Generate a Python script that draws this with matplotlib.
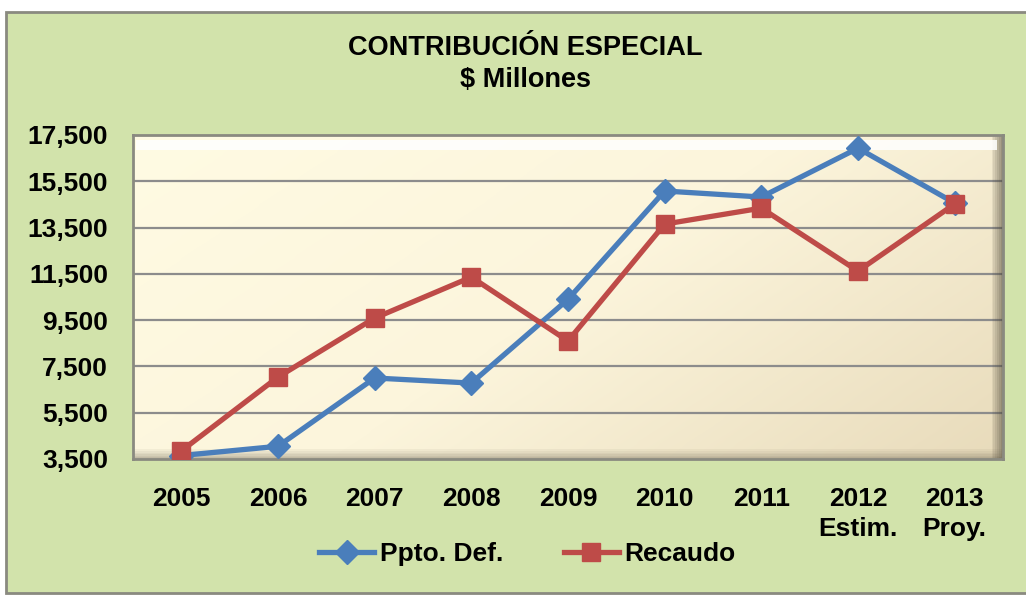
import numpy as np
import matplotlib.pyplot as plt
from matplotlib.patches import Rectangle
from matplotlib.colors import LinearSegmentedColormap

years = ['2005', '2006', '2007', '2008', '2009', '2010', '2011',
         '2012\nEstim.', '2013\nProy.']
ppto_def = [3650, 4050, 7000, 6780, 10400, 15080, 14820, 16930, 14560]
recaudo = [3850, 7040, 9590, 11360, 8600, 13650, 14340, 11620, 14520]
y_ticks = [3500, 5500, 7500, 9500, 11500, 13500, 15500, 17500]

BLUE = '#4a7ebb'
RED = '#be4b48'
GREEN = '#d2e3ab'
FS = 19

plt.rcParams['font.family'] = ['Liberation Sans', 'DejaVu Sans']
plt.rcParams['font.weight'] = 'bold'

fig = plt.figure(figsize=(10.26, 5.97), dpi=100)
fig.patch.set_facecolor('white')

# outer green frame
bg = fig.add_axes([0, 0, 1, 1], zorder=0)
bg.set_axis_off()
bg.set_xlim(0, 1)
bg.set_ylim(0, 1)
bg.add_patch(Rectangle((6 / 1026, 4 / 597), 1.0, 1 - 16 / 597,
                       facecolor=GREEN, edgecolor='#8a8a80', linewidth=2))

ax = fig.add_axes([133 / 1026, 1 - 459 / 597, 870 / 1026, 324 / 597], zorder=1)
ax.set_facecolor('none')

# plot-area gradient (light cream top-left -> tan bottom-right)
gx, gy = np.meshgrid(np.linspace(0, 1, 200), np.linspace(0, 1, 120))
grad = 0.65 * gx + 0.35 * gy
cmap = LinearSegmentedColormap.from_list('bg', ['#fffbe3', '#fcf5dc', '#e8dbbb'])
ax.imshow(grad, extent=[0, 1, 0, 1], transform=ax.transAxes, cmap=cmap,
          aspect='auto', zorder=0, interpolation='bicubic')

x = np.arange(len(years))
ax.set_xlim(-0.5, len(years) - 0.5)
ax.set_ylim(3500, 17500)
ax.set_yticks(y_ticks)
ax.set_yticklabels([f'{v:,}' for v in y_ticks])
ax.set_xticks(x)
ax.set_xticklabels(years, linespacing=1.32)
ax.tick_params(axis='y', length=0, pad=18, labelsize=FS)
ax.tick_params(axis='x', length=0, pad=20, labelsize=FS)
for lab in ax.get_xticklabels() + ax.get_yticklabels():
    lab.set_fontweight('bold')

for v in y_ticks[1:-1]:
    ax.axhline(v, color='#8c8c8c', lw=1.6, zorder=1)

# bevel edges
for i in range(6):
    a = 0.18 * (6 - i) / 6
    ax.add_patch(Rectangle((1 - (i + 1) * 0.0022, 0), 0.0022, 1,
                           transform=ax.transAxes, color='#4a4434',
                           alpha=a * 3, lw=0, zorder=2))
    ax.add_patch(Rectangle((0, i * 0.005), 1, 0.005,
                           transform=ax.transAxes, color='#6b6350',
                           alpha=a * 2.2, lw=0, zorder=2))
ax.add_patch(Rectangle((0.003, 0.955), 0.99, 0.03, transform=ax.transAxes,
                       color='white', alpha=0.85, lw=0, zorder=2))
for s in ax.spines.values():
    s.set_color('#8a8a80')
    s.set_linewidth(2)

ax.plot(x, ppto_def, color=BLUE, lw=3.8, marker='D', ms=12,
        label='Ppto. Def.', zorder=4)
ax.plot(x, recaudo, color=RED, lw=3.8, marker='s', ms=13,
        label='Recaudo', zorder=5)

fig.text(0.512, 1 - 48 / 597, 'CONTRIBUCIÓN ESPECIAL', ha='center',
         va='center', fontsize=FS + 0.5, fontweight='bold')
fig.text(0.512, 1 - 80 / 597, r'\$ Millones', ha='center',
         va='center', fontsize=FS + 0.5, fontweight='bold')

leg = fig.legend(loc='center', bbox_to_anchor=(0.514, 1 - 554 / 597), ncol=2,
                 frameon=False, fontsize=FS, handlelength=2.1,
                 columnspacing=2.3, handletextpad=0.2)
for t in leg.get_texts():
    t.set_fontweight('bold')

fig.savefig('out.png', dpi=100, facecolor=fig.get_facecolor())
